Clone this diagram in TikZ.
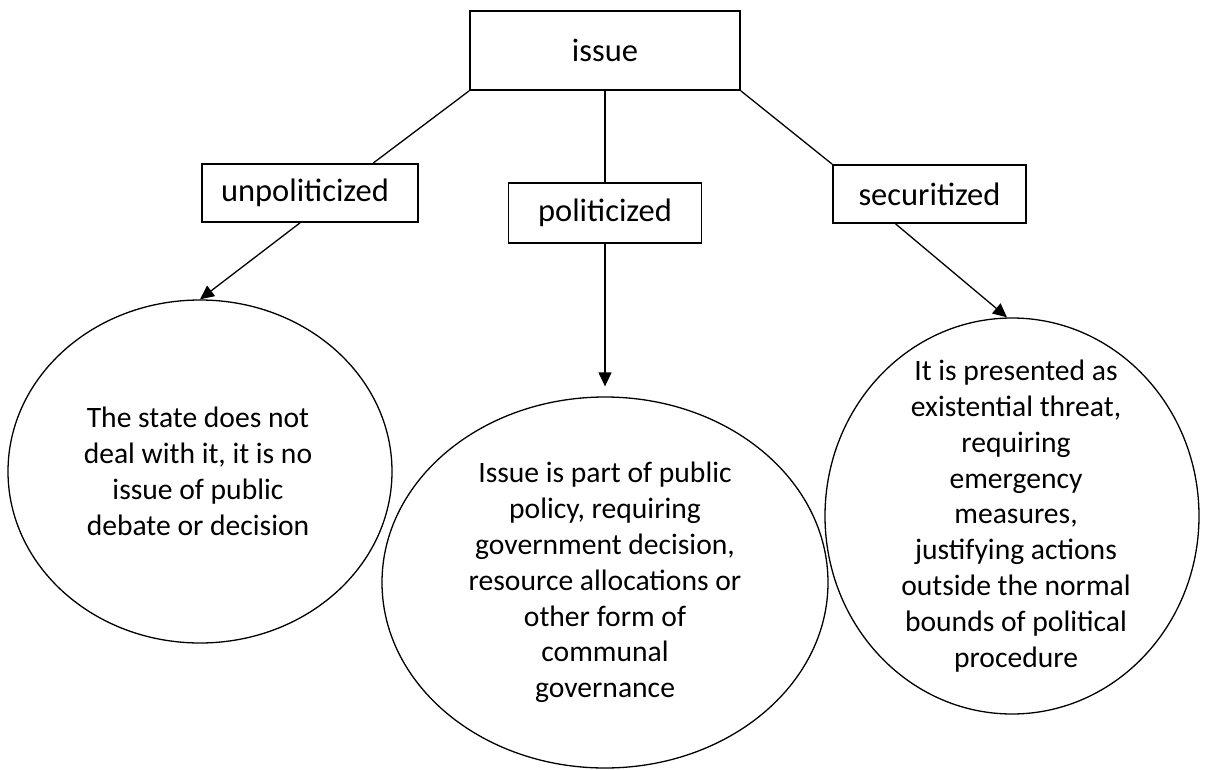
\documentclass[tikz,border=0pt]{standalone}
\usepackage{fontspec}
\setmainfont{Carlito}
\usetikzlibrary{arrows.meta,shapes.geometric,calc}

\tikzset{
  labelbox/.style={draw, line width=1.8pt, rectangle, inner sep=0pt,
    font=\fontsize{32.5}{38}\selectfont},
  bubble/.style={draw, line width=1.3pt, ellipse, inner sep=0pt},
  bubbletext/.style={align=center, inner sep=0pt,
    font=\fontsize{29.6}{35.8}\selectfont},
  link/.style={line width=1.3pt},
  pointer/.style={line width=1.3pt, -{Triangle[length=14pt,width=13pt]}}
}

\begin{document}
\begin{tikzpicture}[x=1pt, y=-1pt]
  \useasboundingbox (0,0) rectangle (1207,770);

  % top node and the three categories
  \node[labelbox, minimum width=270pt, minimum height=79pt] (issue) at (605,50.5) {issue};
  \node[labelbox, minimum width=216pt, minimum height=58pt,
        text width=178pt, inner xsep=19pt, align=left] (unpol) at (310,193) {unpoliticized};
  \node[labelbox, minimum width=193pt, minimum height=60pt] (pol) at (605,213) {politicized};
  \node[labelbox, minimum width=193pt, minimum height=58pt] (sec) at (929.5,194) {securitized};

  % descriptions
  \node[bubble, minimum width=384pt, minimum height=343pt] (left) at (200,471.5) {};
  \node[bubble, minimum width=446pt, minimum height=371pt] (mid) at (605,582.5) {};
  \node[bubble, minimum width=374pt, minimum height=396pt] (right) at (1012,516) {};

  \node[bubbletext] (lefttext) at ($(left.center)+(-2,0)$)
    {The state does not\\deal with it, it is no\\issue of public\\debate or decision};
  \node[bubbletext] (midtext) at (mid.center)
    {Issue is part of public\\policy, requiring\\government decision,\\resource allocations or\\other form of\\communal\\governance};
  \node[bubbletext] (righttext) at ($(right.center)+(4,0)$)
    {It is presented as\\existential threat,\\requiring\\emergency\\measures,\\justifying actions\\outside the normal\\bounds of political\\procedure};

  % tree lines
  \draw[link] (issue.south west) -- ($(unpol.north west)!0.79!(unpol.north east)$);
  \draw[link] (issue.south) -- (pol.north);
  \draw[link] (issue.south east) -- (sec.north west);

  % arrows to the descriptions
  \draw[pointer] ($(unpol.south west)!0.454!(unpol.south east)$) -- (left.north);
  \draw[pointer, shorten >=10pt] (pol.south) -- (mid.north);
  \draw[pointer] ($(sec.south west)!0.326!(sec.south east)$) -- ($(right.north)+(-5,0)$);
\end{tikzpicture}
\end{document}
